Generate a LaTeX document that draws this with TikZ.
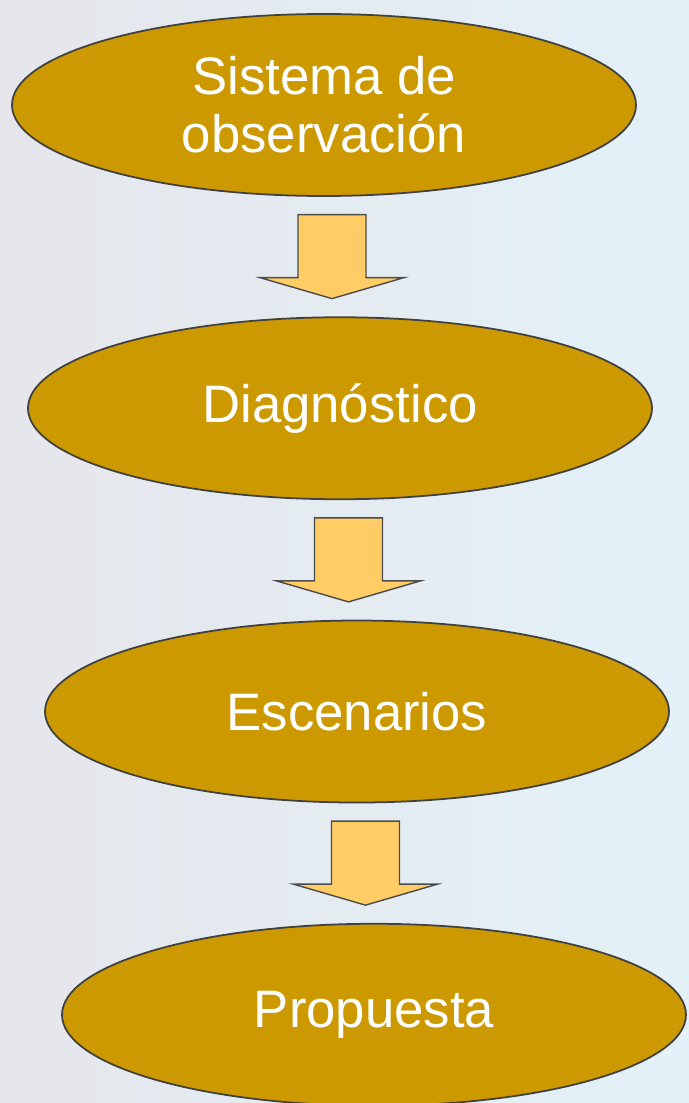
\documentclass[tikz,border=0pt]{standalone}
\usepackage{fontspec}
\setmainfont{Liberation Sans}
\usetikzlibrary{positioning,shapes.geometric,calc}

\definecolor{ocre}{RGB}{204,153,0}
\definecolor{flechaclara}{RGB}{255,204,102}
\definecolor{fondoizq}{RGB}{229,230,235}
\definecolor{fondoder}{RGB}{227,241,248}

% block arrow half way between two stages
\newcommand{\bajada}[2]{%
  \path ($(#1.south)!0.5!(#2.north)$) coordinate (m-#1);
  \draw[flechabloque, shift={(m-#1)}] (-0.68,0.84) -- (0.68,0.84) -- (0.68,-0.42)
    -- (1.44,-0.42) -- (0,-0.84) -- (-1.44,-0.42) -- (-0.68,-0.42) -- cycle;
}

\begin{document}
\begin{tikzpicture}[
    node distance=2.39cm,
    etapa/.style={draw=black!75, line width=1pt, fill=ocre, ellipse, inner sep=0pt,
      minimum width=12.48cm, minimum height=3.64cm, text=white, align=center,
      font=\fontsize{30}{33}\selectfont},
    flechabloque/.style={draw=black!70, line width=0.8pt, fill=flechaclara, line join=miter}
]
    \useasboundingbox (0,0) rectangle (13.78,-22.06);
    \shade[left color=fondoizq, right color=fondoder] (0,0) rectangle (13.78,-22.06);

    % the four stages, each a bit to the right
    \node[etapa] (obs) at (6.48,-2.10) {Sistema de\\observación};
    \node[etapa, below=of obs, xshift=0.32cm] (diag) {Diagnóstico};
    \node[etapa, below=of diag, xshift=0.34cm] (esc) {Escenarios};
    \node[etapa, below=of esc, xshift=0.34cm] (prop) {Propuesta};

    \bajada{obs}{diag}
    \bajada{diag}{esc}
    \bajada{esc}{prop}
\end{tikzpicture}
\end{document}
